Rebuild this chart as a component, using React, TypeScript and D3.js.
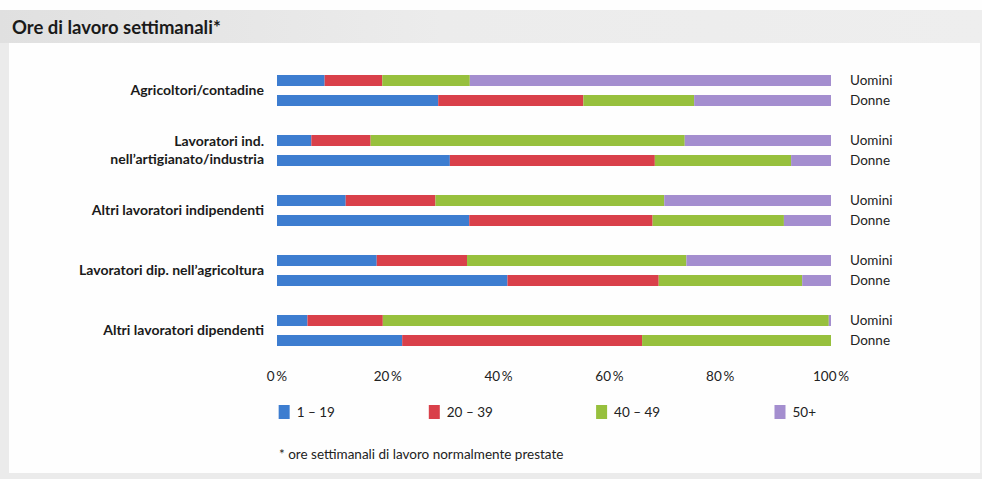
import React from "react";
import * as d3 from "d3";

const categories = [
  ["Agricoltori/contadine"],
  ["Lavoratori ind.", "nell\u2019artigianato/industria"],
  ["Altri lavoratori indipendenti"],
  ["Lavoratori dip. nell\u2019agricoltura"],
  ["Altri lavoratori dipendenti"],
];
const sexes = ["Uomini", "Donne"];
const bands = ["1 \u2013 19", "20 \u2013 39", "40 \u2013 49", "50+"];
// values per category, each [1-19, 20-39, 40-49, 50+]
const menValues = [
  [8.6, 10.4, 15.8, 65.2],
  [6.2, 10.7, 56.7, 26.4],
  [12.4, 16.2, 41.3, 30.1],
  [18.0, 16.3, 39.6, 26.1],
  [5.5, 13.6, 80.5, 0.4],
];
const womenValues = [
  [29.1, 26.2, 20.0, 24.7],
  [31.2, 37.0, 24.6, 7.2],
  [34.7, 33.1, 23.7, 8.5],
  [41.6, 27.3, 25.9, 5.2],
  [22.6, 43.3, 34.1, 0.0],
];
const ticks = [0, 20, 40, 60, 80, 100];
const colors = ["#3d7dd0", "#d9404a", "#97c03d", "#a48ecf"];
const title = "Ore di lavoro settimanali*";
const footnote = "* ore settimanali di lavoro normalmente prestate";

// layout (legend item offsets in axis-percent units)
const legendPos = [0.3, 27.4, 57.6, 89.8];

const W = 982;
const H = 479;
const FONT = "Lato, 'Noto Sans', sans-serif";

export default function App() {
  const x = d3.scaleLinear().domain([0, 100]).range([277, 831]);
  const groupIdx = categories.map((_, i) => String(i));
  const y = d3.scaleBand().domain(groupIdx).range([65, 365]).padding(0);
  const ySex = d3.scalePoint().domain(sexes).range([15.5, 35.5]);
  const barH = 11;

  const rows = categories.map((c, i) => ({
    c,
    i,
    data: [menValues[i], womenValues[i]],
  }));
  const stack = (vals: number[]) => {
    let acc = 0;
    return vals.map((v) => {
      const s = acc;
      acc += v;
      return [s, acc];
    });
  };

  return (
    <svg
      width={W}
      height={H}
      style={{ position: "absolute", left: 0, top: 0, background: "#fff" }}
    >
      <defs>
        <linearGradient id="tg" x1="0" x2="1" y1="0" y2="0">
          <stop offset="0" stopColor="#e0e0e0" />
          <stop offset="0.45" stopColor="#ececec" />
          <stop offset="1" stopColor="#eeeeee" />
        </linearGradient>
      </defs>
      <rect x={0} y={0} width={W} height={H} fill="#fefefe" />
      <rect x={0} y={10} width={9} height={H - 10} fill="#ebebeb" />
      <rect x={980} y={10} width={2} height={H - 10} fill="#eeeeee" />
      <rect x={0} y={473} width={W} height={6} fill="#ebebeb" />
      <rect x={0} y={10} width={W} height={33} fill="url(#tg)" />
      <text
        x={12}
        y={34}
        fontFamily={FONT}
        fontWeight={700}
        fontSize={18.5}
        fill="#1a1a1a"
      >
        {title}
      </text>

      {rows.map((r) => {
        const g0 = y(String(r.i)) as number;
        const labelCenter = g0 + 25.5;
        return (
          <g key={r.i}>
            {r.c.map((line, li) => (
              <text
                key={li}
                x={264}
                y={labelCenter + (li - (r.c.length - 1) / 2) * 18}
                dy="0.35em"
                textAnchor="end"
                fontFamily={FONT}
                fontWeight={700}
                fontSize={14}
                fill="#1a1a1a"
              >
                {line}
              </text>
            ))}
            {sexes.map((s, si) => {
              const cy = g0 + (ySex(s) as number);
              return (
                <g key={s}>
                  {stack(r.data[si]).map(([a, b], k) =>
                    b > a ? (
                      <rect
                        key={k}
                        x={x(a)}
                        y={cy - barH / 2}
                        width={x(b) - x(a)}
                        height={barH}
                        fill={colors[k]}
                      />
                    ) : null
                  )}
                  <text
                    x={850}
                    y={cy}
                    dy="0.35em"
                    fontFamily={FONT}
                    fontSize={13.5}
                    fill="#222"
                  >
                    {s}
                  </text>
                </g>
              );
            })}
          </g>
        );
      })}

      {ticks.map((t) => (
        <text
          key={t}
          x={x(t)}
          y={376}
          dy="0.35em"
          textAnchor="middle"
          fontFamily={FONT}
          fontSize={13.5}
          fill="#222"
        >
          {t + "\u2009%"}
        </text>
      ))}

      {bands.map((b, k) => {
        const lx = x(legendPos[k]);
        return (
          <g key={b}>
            <rect x={lx} y={405} width={11} height={14} fill={colors[k]} />
            <text
              x={lx + 18}
              y={412}
              dy="0.35em"
              fontFamily={FONT}
              fontSize={13.5}
              fill="#222"
            >
              {b}
            </text>
          </g>
        );
      })}

      <text
        x={279}
        y={454}
        dy="0.35em"
        fontFamily={FONT}
        fontSize={13.5}
        fill="#222"
      >
        {footnote}
      </text>
    </svg>
  );
}
